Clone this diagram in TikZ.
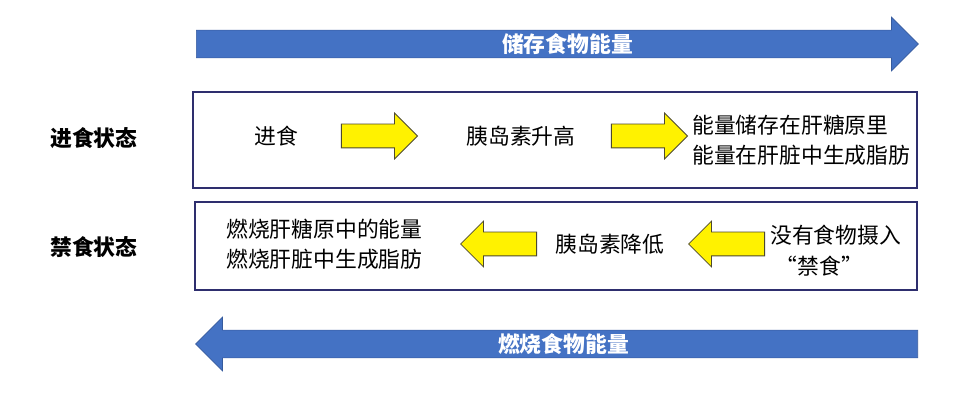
\documentclass[tikz,border=0pt]{standalone}
\usepackage{fontspec}
\setmainfont{Noto Sans CJK SC}
\usetikzlibrary{shapes.arrows}
\definecolor{energyblue}{HTML}{4472C4}
\definecolor{boxnavy}{HTML}{2E2E6E}
\begin{document}
\begin{tikzpicture}[
    x=0.025cm, y=-0.025cm,
    txt/.style={font=\fontsize{15.5}{21}\selectfont, align=left, inner sep=0pt},
    label/.style={font=\fontsize{15.5}{20}\selectfont\bfseries, inner sep=0pt},
    panel/.style={draw=boxnavy, line width=1.2pt, fill=white},
    yarrow/.style={single arrow, draw=black!60!olive, fill=yellow, line width=0.6pt, minimum height=76*0.025cm, minimum width=45*0.025cm, single arrow head extend=11*0.025cm, single arrow head indent=0pt, inner xsep=0pt, inner ysep=11.5*0.025cm},
    barrow/.style={single arrow, draw=energyblue!80!black, fill=energyblue, line width=0.5pt, text=white, font=\fontsize{15.5}{20}\selectfont\bfseries, minimum height=722*0.025cm, minimum width=53*0.025cm, single arrow head extend=13*0.025cm, single arrow head indent=0pt, inner sep=0pt, text height=0.545cm, text depth=0.13cm},
]
\useasboundingbox (0,0) rectangle (975,400);

% Energy arrows
\node[barrow, anchor=tail] (store) at (196,44) {\hspace*{0.85cm}储存食物能量};
\node[barrow, shape border rotate=180, anchor=tail] (burn) at (918,344) {燃烧食物能量};

% Panels
\node[panel, minimum width=724*0.025cm, minimum height=96*0.025cm] (fedbox) at (555,140) {};
\node[panel, minimum width=722*0.025cm, minimum height=88*0.025cm] (fastbox) at (556,246) {};

% Row labels
\node[label] (fed) at (94,138) {进食状态};
\node[label] (fast) at (94,247) {禁食状态};

% Fed state
\node[txt] (eat) at (276,136) {进食};
\node[txt] (insup) at (521,136) {胰岛素升高};
\node[txt, anchor=west] (storeg) at (692,140) {能量储存在肝糖原里\\能量在肝脏中生成脂肪};
\node[yarrow, anchor=tip] (a1) at (418,136) {};
\node[yarrow, anchor=tip] (a2) at (688,136) {};

% Fasting state
\node[txt, anchor=west] (burng) at (226,244) {燃烧肝糖原中的能量\\燃烧肝脏中生成脂肪};
\node[txt] (insdown) at (610,244) {胰岛素降低};
\node[txt, anchor=west] (nofood) at (770,251) {没有食物摄入\\[1pt]\hspace*{0.25em}“禁食”};
\node[yarrow, shape border rotate=180, anchor=tip] (a3) at (460,244) {};
\node[yarrow, shape border rotate=180, anchor=tip] (a4) at (688,244) {};

\end{tikzpicture}
\end{document}
